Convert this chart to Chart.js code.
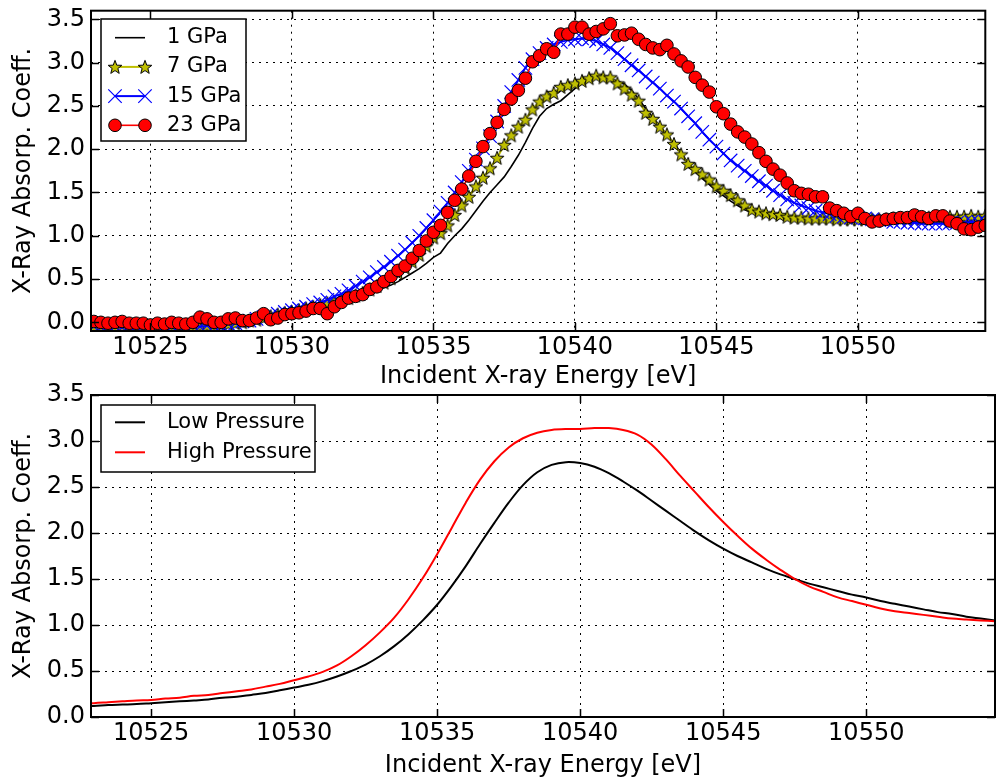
<!DOCTYPE html>
<html>
<head>
<meta charset="utf-8">
<script src="https://cdn.jsdelivr.net/npm/chart.js@4.4.1/dist/chart.umd.min.js"></script>
<style>
  body { margin: 0; background: #fff; }
  #wrap { position: relative; width: 996px; height: 778px; }
  canvas { position: absolute; left: 0; }
</style>
</head>
<body>
<div id="wrap">
  <canvas id="topChart" width="996" height="389" style="top:0"></canvas>
  <canvas id="bottomChart" width="996" height="399" style="top:379px"></canvas>
</div>
<script>
// ---- data ----
const xTicks = [10525, 10530, 10535, 10540, 10545, 10550];
const yTicks = [0, 0.5, 1, 1.5, 2, 2.5, 3, 3.5];

const topLabels = ['1 GPa', '7 GPa', '15 GPa', '23 GPa'];
const bottomLabels = ['Low Pressure', 'High Pressure'];

// measured spectra (energy in eV)
const energyTop = [
  10522.75,
  10523.00, 10523.25, 10523.50, 10523.75, 10524.00, 10524.25, 10524.50, 10524.75,
  10525.00, 10525.25, 10525.50, 10525.75, 10526.00, 10526.25, 10526.50, 10526.75,
  10527.00, 10527.25, 10527.50, 10527.75, 10528.00, 10528.25, 10528.50, 10528.75,
  10529.00, 10529.25, 10529.50, 10529.75, 10530.00, 10530.25, 10530.50, 10530.75,
  10531.00, 10531.25, 10531.50, 10531.75, 10532.00, 10532.25, 10532.50, 10532.75,
  10533.00, 10533.25, 10533.50, 10533.75, 10534.00, 10534.25, 10534.50, 10534.75,
  10535.00, 10535.25, 10535.50, 10535.75, 10536.00, 10536.25, 10536.50, 10536.75,
  10537.00, 10537.25, 10537.50, 10537.75, 10538.00, 10538.25, 10538.50, 10538.75,
  10539.00, 10539.25, 10539.50, 10539.75, 10540.00, 10540.25, 10540.50, 10540.75,
  10541.00, 10541.25, 10541.50, 10541.75, 10542.00, 10542.25, 10542.50, 10542.75,
  10543.00, 10543.25, 10543.50, 10543.75, 10544.00, 10544.25, 10544.50, 10544.75,
  10545.00, 10545.25, 10545.50, 10545.75, 10546.00, 10546.25, 10546.50, 10546.75,
  10547.00, 10547.25, 10547.50, 10547.75, 10548.00, 10548.25, 10548.50, 10548.75,
  10549.00, 10549.25, 10549.50, 10549.75, 10550.00, 10550.25, 10550.50, 10550.75,
  10551.00, 10551.25, 10551.50, 10551.75, 10552.00, 10552.25, 10552.50, 10552.75,
  10553.00, 10553.25, 10553.50, 10553.75, 10554.00, 10554.25, 10554.50
];

const gpa1 = [
  -0.03,
  -0.03, -0.03, -0.04, -0.03, -0.03, -0.04, -0.04, -0.03,
  -0.04, -0.04, -0.03, -0.03, -0.03, -0.03, -0.03, -0.02,
  -0.02, -0.02, -0.01, 0.00, 0.01, 0.02, 0.03, 0.04,
  0.05, 0.06, 0.07, 0.08, 0.09, 0.10, 0.12, 0.13,
  0.15, 0.17, 0.19, 0.21, 0.23, 0.26, 0.29, 0.33,
  0.37, 0.40, 0.43, 0.47, 0.52, 0.57, 0.62, 0.68,
  0.75, 0.80, 0.91, 1.00, 1.08, 1.18, 1.29, 1.40,
  1.50, 1.59, 1.68, 1.80, 1.93, 2.08, 2.24, 2.38,
  2.47, 2.52, 2.56, 2.63, 2.70, 2.76, 2.80, 2.83,
  2.83, 2.81, 2.79, 2.75, 2.68, 2.58, 2.47, 2.37,
  2.27, 2.17, 2.07, 1.96, 1.84, 1.74, 1.66, 1.59,
  1.52, 1.46, 1.40, 1.35, 1.30, 1.27, 1.25, 1.23,
  1.22, 1.21, 1.20, 1.20, 1.19, 1.19, 1.19, 1.19,
  1.19, 1.19, 1.19, 1.18, 1.18, 1.18, 1.18, 1.17,
  1.17, 1.17, 1.17, 1.17, 1.17, 1.17, 1.17, 1.17,
  1.17, 1.17, 1.17, 1.17, 1.17, 1.17, 1.17
];

const gpa7 = [
  -0.05,
  -0.05, -0.05, -0.04, -0.05, -0.05, -0.04, -0.05, -0.05,
  -0.05, -0.04, -0.05, -0.04, -0.04, -0.05, -0.04, -0.04,
  -0.04, -0.04, -0.03, -0.02, -0.01, 0.00, 0.02, 0.03,
  0.05, 0.07, 0.09, 0.11, 0.12, 0.14, 0.16, 0.18,
  0.20, 0.22, 0.24, 0.26, 0.28, 0.31, 0.34, 0.38,
  0.42, 0.46, 0.51, 0.57, 0.63, 0.70, 0.78, 0.88,
  0.98, 1.03, 1.12, 1.24, 1.35, 1.45, 1.57, 1.67,
  1.78, 1.90, 2.05, 2.16, 2.26, 2.34, 2.46, 2.55,
  2.61, 2.65, 2.72, 2.74, 2.76, 2.79, 2.82, 2.85,
  2.83, 2.83, 2.76, 2.70, 2.63, 2.56, 2.42, 2.35,
  2.26, 2.17, 2.06, 1.94, 1.83, 1.77, 1.71, 1.65,
  1.57, 1.52, 1.47, 1.41, 1.35, 1.30, 1.28, 1.26,
  1.25, 1.24, 1.22, 1.21, 1.21, 1.20, 1.20, 1.20,
  1.20, 1.19, 1.19, 1.19, 1.19, 1.19, 1.19, 1.19,
  1.19, 1.20, 1.20, 1.20, 1.20, 1.20, 1.21, 1.21,
  1.21, 1.22, 1.22, 1.22, 1.23, 1.22, 1.23
];

const gpa15 = [
  -0.05,
  -0.05, -0.06, -0.05, -0.05, -0.06, -0.05, -0.05, -0.06,
  -0.05, -0.05, -0.06, -0.05, -0.05, -0.05, -0.04, -0.05,
  -0.04, -0.04, -0.03, -0.02, -0.01, 0.01, 0.02, 0.04,
  0.06, 0.08, 0.10, 0.12, 0.14, 0.16, 0.18, 0.21,
  0.23, 0.26, 0.30, 0.33, 0.37, 0.42, 0.47, 0.52,
  0.58, 0.64, 0.70, 0.77, 0.84, 0.92, 1.00, 1.09,
  1.18, 1.28, 1.38, 1.50, 1.62, 1.75, 1.88, 2.01,
  2.15, 2.32, 2.50, 2.66, 2.80, 2.94, 3.04, 3.11,
  3.17, 3.21, 3.24, 3.26, 3.27, 3.28, 3.27, 3.25,
  3.21, 3.17, 3.11, 3.04, 2.97, 2.91, 2.84, 2.77,
  2.70, 2.62, 2.55, 2.47, 2.38, 2.30, 2.20, 2.11,
  2.03, 1.95, 1.87, 1.81, 1.75, 1.69, 1.63, 1.58,
  1.52, 1.47, 1.42, 1.38, 1.35, 1.32, 1.29, 1.27,
  1.25, 1.23, 1.22, 1.21, 1.21, 1.20, 1.19, 1.18,
  1.17, 1.16, 1.16, 1.15, 1.15, 1.14, 1.14, 1.14,
  1.14, 1.15, 1.15, 1.15, 1.16, 1.16, 1.16
];

const gpa23 = [
  0.02,
  0.01, 0.00, -0.01, 0.00, 0.01, -0.01, -0.01, -0.01,
  -0.03, -0.01, -0.02, 0.00, -0.01, -0.02, 0.00, 0.06,
  0.04, 0.00, 0.00, 0.04, 0.05, 0.02, 0.02, 0.05,
  0.10, 0.03, 0.05, 0.09, 0.10, 0.11, 0.13, 0.16,
  0.16, 0.10, 0.18, 0.23, 0.28, 0.30, 0.32, 0.38,
  0.41, 0.47, 0.53, 0.60, 0.65, 0.74, 0.83, 0.94,
  1.04, 1.12, 1.27, 1.41, 1.54, 1.69, 1.86, 2.03,
  2.18, 2.31, 2.46, 2.58, 2.68, 2.82, 3.01, 3.08,
  3.16, 3.12, 3.33, 3.33, 3.41, 3.41, 3.33, 3.36,
  3.39, 3.45, 3.31, 3.32, 3.34, 3.27, 3.21, 3.17,
  3.15, 3.20, 3.10, 3.02, 2.95, 2.83, 2.74, 2.66,
  2.49, 2.41, 2.29, 2.20, 2.14, 2.06, 1.96, 1.86,
  1.77, 1.70, 1.61, 1.52, 1.49, 1.48, 1.45, 1.45,
  1.32, 1.29, 1.26, 1.22, 1.26, 1.20, 1.16, 1.17,
  1.19, 1.20, 1.21, 1.21, 1.24, 1.22, 1.20, 1.23,
  1.23, 1.17, 1.14, 1.08, 1.07, 1.10, 1.12
];

// smoothed curves
const energyBottom = [
  10522.5,
  10523.0, 10523.5, 10524.0, 10524.5, 10525.0, 10525.5, 10526.0, 10526.5,
  10527.0, 10527.5, 10528.0, 10528.5, 10529.0, 10529.5, 10530.0, 10530.5,
  10531.0, 10531.5, 10532.0, 10532.5, 10533.0, 10533.5, 10534.0, 10534.5,
  10535.0, 10535.5, 10536.0, 10536.5, 10537.0, 10537.5, 10538.0, 10538.5,
  10539.0, 10539.5, 10540.0, 10540.5, 10541.0, 10541.5, 10542.0, 10542.5,
  10543.0, 10543.5, 10544.0, 10544.5, 10545.0, 10545.5, 10546.0, 10546.5,
  10547.0, 10547.5, 10548.0, 10548.5, 10549.0, 10549.5, 10550.0, 10550.5,
  10551.0, 10551.5, 10552.0, 10552.5, 10553.0, 10553.5, 10554.0, 10554.5
];

const lowPressure = [
  0.115,
  0.12, 0.13, 0.135, 0.14, 0.15, 0.16, 0.17, 0.18,
  0.19, 0.21, 0.22, 0.24, 0.26, 0.29, 0.32, 0.35,
  0.39, 0.44, 0.50, 0.57, 0.66, 0.77, 0.90, 1.05,
  1.22, 1.42, 1.64, 1.88, 2.11, 2.33, 2.52, 2.66,
  2.74, 2.77, 2.76, 2.72, 2.65, 2.56, 2.46, 2.35,
  2.24, 2.13, 2.02, 1.92, 1.83, 1.75, 1.68, 1.61,
  1.55, 1.50, 1.45, 1.41, 1.37, 1.33, 1.30, 1.26,
  1.23, 1.20, 1.17, 1.14, 1.12, 1.09, 1.07, 1.05
];

const highPressure = [
  0.145,
  0.15, 0.16, 0.17, 0.18, 0.185, 0.20, 0.21, 0.23,
  0.24, 0.26, 0.28, 0.30, 0.33, 0.36, 0.40, 0.44,
  0.49, 0.56, 0.66, 0.78, 0.92, 1.08, 1.28, 1.51,
  1.77, 2.05, 2.33, 2.58, 2.78, 2.93, 3.03, 3.09,
  3.12, 3.13, 3.13, 3.14, 3.14, 3.12, 3.07, 2.96,
  2.80, 2.62, 2.45, 2.28, 2.12, 1.97, 1.83, 1.71,
  1.60, 1.50, 1.42, 1.36, 1.30, 1.26, 1.22, 1.18,
  1.15, 1.13, 1.11, 1.09, 1.07, 1.06, 1.05, 1.04
];

// ---- styling ----
Chart.defaults.font.family = 'DejaVu Sans';
Chart.defaults.color = '#000';

const OLIVE = '#bfbf00';

function pts(xs, ys) {
  return xs.map((x, i) => ({ x: x, y: ys[i] }));
}

// filled five point star marker (matplotlib '*')
function starMarker() {
  const c = document.createElement('canvas');
  c.width = 18; c.height = 18;
  const g = c.getContext('2d');
  const R = 7.2, r = 3;
  g.beginPath();
  for (let k = 0; k < 10; k++) {
    const rad = k % 2 === 0 ? R : r;
    const a = -Math.PI / 2 + k * Math.PI / 5;
    const px = 9 + rad * Math.cos(a), py = 9.6 + rad * Math.sin(a);
    if (k === 0) g.moveTo(px, py); else g.lineTo(px, py);
  }
  g.closePath();
  g.fillStyle = OLIVE;
  g.fill();
  g.lineWidth = 1;
  g.strokeStyle = '#000';
  g.stroke();
  return c;
}
const star = starMarker();

// frame, inward ticks and the inset legend
const framePlugin = {
  id: 'frame',
  afterDraw(chart, args, opts) {
    const { ctx, chartArea: a, scales } = chart;
    ctx.save();
    ctx.strokeStyle = '#000';
    ctx.lineWidth = 1.5;
    ctx.beginPath();
    scales.x.ticks.forEach(t => {
      const px = Math.round(scales.x.getPixelForValue(t.value)) + 0.5;
      ctx.moveTo(px, a.bottom); ctx.lineTo(px, a.bottom - 8);
      ctx.moveTo(px, a.top); ctx.lineTo(px, a.top + 8);
    });
    scales.y.ticks.forEach(t => {
      const py = Math.round(scales.y.getPixelForValue(t.value)) + 0.5;
      ctx.moveTo(a.left, py); ctx.lineTo(a.left + 8, py);
      ctx.moveTo(a.right, py); ctx.lineTo(a.right - 8, py);
    });
    ctx.stroke();
    ctx.lineWidth = 2;
    ctx.strokeRect(a.left, a.top, a.right - a.left, a.bottom - a.top);

    const lg = opts.legend;
    ctx.fillStyle = '#fff';
    ctx.fillRect(lg.x, lg.y, lg.w, lg.h);
    ctx.lineWidth = 1.5;
    ctx.strokeStyle = '#000';
    ctx.strokeRect(lg.x, lg.y, lg.w, lg.h);
    lg.labels.forEach((label, i) => {
      const ds = chart.data.datasets[i];
      const yRow = lg.y + lg.firstRow + i * lg.rowGap;
      ctx.strokeStyle = ds.borderColor;
      ctx.lineWidth = ds.borderWidth;
      ctx.beginPath();
      ctx.moveTo(lg.x1, yRow); ctx.lineTo(lg.x2, yRow);
      ctx.stroke();
      if (ds.pointRadius > 0) {
        [lg.x1, lg.x2].forEach(px => {
          ctx.fillStyle = ds.pointBackgroundColor;
          ctx.strokeStyle = ds.pointBorderColor;
          ctx.lineWidth = ds.pointBorderWidth;
          Chart.helpers.drawPoint(ctx, {
            pointStyle: ds.pointStyle, radius: ds.pointRadius,
            borderWidth: ds.pointBorderWidth, rotation: 0
          }, px, yRow);
        });
      }
      ctx.fillStyle = '#000';
      ctx.font = '21px "DejaVu Sans"';
      ctx.textBaseline = 'middle';
      ctx.textAlign = 'left';
      ctx.fillText(label, lg.textX, yRow);
    });
    ctx.restore();
  }
};

function scalesFor(yMin, yMax, xAxisHeight) {
  return {
    x: {
      type: 'linear', min: 10522.9, max: 10554.5,
      afterBuildTicks: s => { s.ticks = xTicks.map(v => ({ value: v })); },
      afterFit: s => {
        s.height = xAxisHeight;
        s.paddingLeft = s.paddingRight = s.paddingTop = s.paddingBottom = 0;
      },
      grid: { color: '#000', lineWidth: 1, drawTicks: false },
      border: { display: false, dash: [2, 5] },
      ticks: {
        font: { size: 24, lineHeight: 1 }, padding: 5, maxRotation: 0, autoSkip: false,
        callback: v => String(v)
      },
      title: {
        display: true, text: 'Incident X-ray Energy [eV]',
        font: { size: 24, lineHeight: 1 }, padding: { top: 0, bottom: 0 }
      }
    },
    y: {
      type: 'linear', min: yMin, max: yMax,
      afterBuildTicks: s => { s.ticks = yTicks.map(v => ({ value: v })); },
      afterFit: s => {
        s.width = 91;
        s.paddingLeft = s.paddingRight = s.paddingTop = s.paddingBottom = 0;
      },
      grid: { color: '#000', lineWidth: 1, drawTicks: false },
      border: { display: false, dash: [2, 5] },
      ticks: {
        font: { size: 24, lineHeight: 1 }, padding: 6, autoSkip: false,
        callback: v => v.toFixed(1)
      },
      title: {
        display: true, text: 'X-Ray Absorp. Coeff.',
        font: { size: 24, lineHeight: 1 }, padding: { top: 12, bottom: 0 }
      }
    }
  };
}

// ---- top panel: measured spectra ----
new Chart(document.getElementById('topChart'), {
  type: 'line',
  data: {
    datasets: [
      {
        label: topLabels[0], data: pts(energyTop, gpa1), order: 4,
        borderColor: '#000', borderWidth: 1.6, pointRadius: 0
      },
      {
        label: topLabels[1], data: pts(energyTop, gpa7), order: 3,
        borderColor: OLIVE, borderWidth: 2,
        pointStyle: star, pointRadius: 7,
        pointBackgroundColor: OLIVE, pointBorderColor: '#000', pointBorderWidth: 1
      },
      {
        label: topLabels[2], data: pts(energyTop, gpa15), order: 2,
        borderColor: '#0000ff', borderWidth: 2,
        pointStyle: 'crossRot', pointRadius: 9.5,
        pointBackgroundColor: '#0000ff', pointBorderColor: '#0000ff', pointBorderWidth: 1.2
      },
      {
        label: topLabels[3], data: pts(energyTop, gpa23), order: 1,
        borderColor: '#ff0000', borderWidth: 1.6,
        pointStyle: 'circle', pointRadius: 6.3,
        pointBackgroundColor: '#ff0000', pointBorderColor: '#000', pointBorderWidth: 1
      }
    ]
  },
  options: {
    responsive: false, animation: false, events: [],
    layout: { padding: { left: 0, right: 1, top: 9, bottom: 0 } },
    plugins: {
      legend: { display: false }, tooltip: { enabled: false },
      frame: {
        legend: {
          x: 101, y: 19, w: 145, h: 122, firstRow: 18.7, rowGap: 29.2,
          x1: 115, x2: 145, textX: 167, labels: topLabels
        }
      }
    },
    scales: scalesFor(-0.1, 3.6, 58)
  },
  plugins: [framePlugin]
});

// ---- bottom panel: smoothed curves ----
new Chart(document.getElementById('bottomChart'), {
  type: 'line',
  data: {
    datasets: [
      {
        label: bottomLabels[0], data: pts(energyBottom, lowPressure), order: 2,
        borderColor: '#000', borderWidth: 2, pointRadius: 0, tension: 0.35
      },
      {
        label: bottomLabels[1], data: pts(energyBottom, highPressure), order: 1,
        borderColor: '#ff0000', borderWidth: 2, pointRadius: 0, tension: 0.35
      }
    ]
  },
  options: {
    responsive: false, animation: false, events: [],
    layout: { padding: { left: 0, right: 1, top: 16, bottom: 0 } },
    plugins: {
      legend: { display: false }, tooltip: { enabled: false },
      frame: {
        legend: {
          x: 101, y: 26, w: 214, h: 67, firstRow: 17.3, rowGap: 30,
          x1: 115, x2: 145, textX: 167, labels: bottomLabels
        }
      }
    },
    scales: scalesFor(0, 3.5, 61)
  },
  plugins: [framePlugin]
});
</script>
</body>
</html>
